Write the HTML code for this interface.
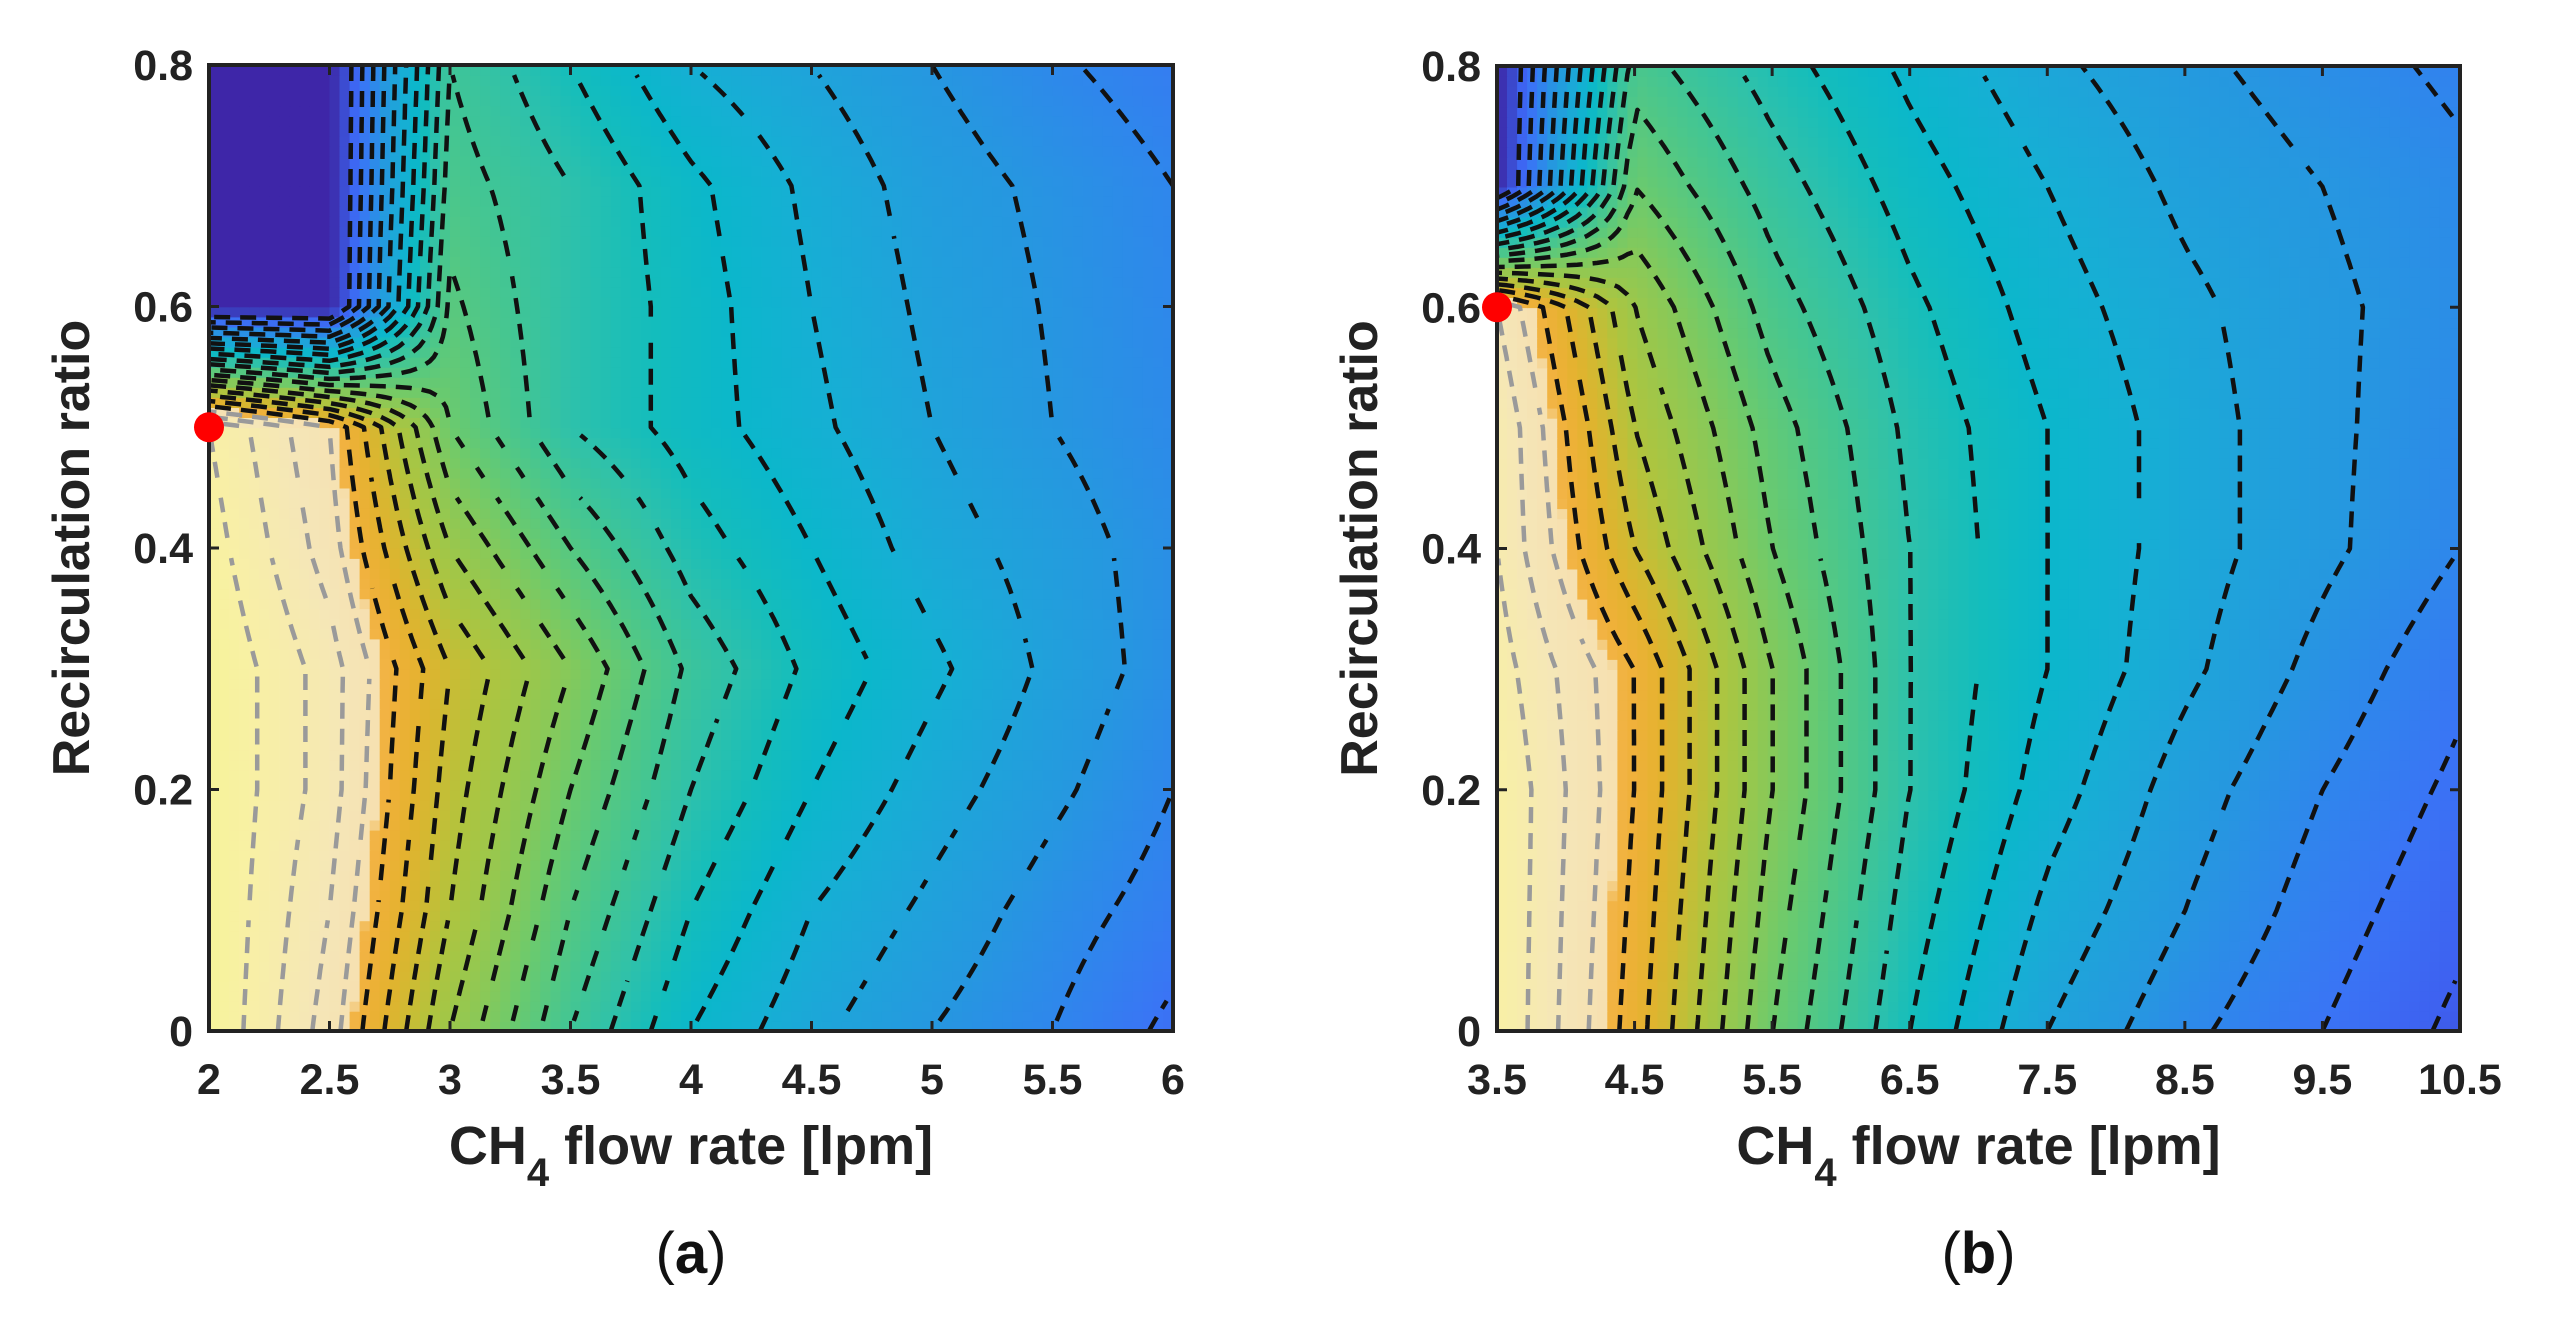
<!DOCTYPE html>
<html><head><meta charset="utf-8"><style>
html,body{margin:0;padding:0;background:#fff}
svg{display:block}
text{font-family:"Liberation Sans",Arial,sans-serif}
</style></head><body>
<svg id="fig" width="2564" height="1344" xmlns="http://www.w3.org/2000/svg"></svg>
<script>
// ---- data: panel (a) ----
const xA = [2,2.5,3,3.5,4,4.5,5,5.5,6];
const yA = [0,0.1,0.2,0.3,0.4,0.5,0.6,0.7,0.8];
const zA = [
 [58,51,40,32,26,22.5,20,18,15.5],
 [58,52,42,34,28,24,21.5,19,17],
 [58,53,43,36,30,26,23,20.5,18],
 [58,53,44,38,31.5,27.5,24.5,21.5,19],
 [57,51,40,34,29,26,23,21,19],
 [56,50,36,30,27,24.5,22,20,18.5],
 [10,10,34.5,30,27,24,21.5,19.8,18.2],
 [10,10,33,30,26.5,23.5,21,19.5,18],
 [10,10,32,28,24,22,20,18.3,17]
];
const xTicksA = ["2","2.5","3","3.5","4","4.5","5","5.5","6"];
// ---- data: panel (b) ----
const xB = [3.5,4.5,5.5,6.5,7.5,8.5,9.5,10.5];
const yB = [0,0.1,0.2,0.3,0.4,0.5,0.6,0.7,0.8];
const zB = [
 [56,47,36,28,22,18.5,16,13.5],
 [56,47.5,37,29,23.5,20,17,14.5],
 [56,48,38,30,25,21,18,15.5],
 [55,48,38,30,26,22.5,19.3,16.5],
 [54,44,36,30,26,23,20.5,18],
 [54,42,35,29.5,26,23,20.5,18.5],
 [52,40,33,28.5,25,22.5,20.5,18.8],
 [10,36,31,27,24,21.5,20,18.5],
 [10,33,29,25.5,22.5,20.5,19,17.5]
];
const xTicksB = ["3.5","4.5","5.5","6.5","7.5","8.5","9.5","10.5"];
const yTicks = [0,0.2,0.4,0.6,0.8];
const yTickLabels = ["0","0.2","0.4","0.6","0.8"];
const levels = [14,16,18,20,22,24,26,28,30,32,34,36,38,40,42,44,46,48,50,52,54,56,58];
const dotA = [2,0.5];
const dotB = [3.5,0.6];

const NS="http://www.w3.org/2000/svg";
const svg=document.getElementById('fig');
function mk(tag,attrs,parent){const e=document.createElementNS(NS,tag);for(const k in attrs)e.setAttribute(k,attrs[k]);(parent||svg).appendChild(e);return e;}

const stops=[[10,[62,38,168]],[12,[58,63,190]],[14,[62,96,240]],[16,[58,116,245]],[18,[47,134,236]],[20,[38,151,224]],[22,[31,163,218]],[24,[22,175,212]],[26,[11,183,203]],[28,[20,189,188]],[30,[46,193,171]],[32,[64,197,150]],[34,[85,200,130]],[36,[108,202,109]],[38,[134,201,90]],[40,[156,199,75]],[42,[176,196,62]],[44,[205,187,51]],[46,[227,178,46]],[48,[240,177,58]],[48.9,[242,180,70]],[49,[246,224,176]],[52,[245,230,184]],[56,[248,240,165]],[58,[246,243,154]]];
function color(v){
 if(v<=stops[0][0])return 'rgb('+stops[0][1]+')';
 for(let i=1;i<stops.length;i++){if(v<=stops[i][0]){const a=stops[i-1],b=stops[i],t=(v-a[0])/(b[0]-a[0]);
  return 'rgb('+a[1].map((c,j)=>Math.round(c+(b[1][j]-c)*t)).join(',')+')';}}
 return 'rgb('+stops[stops.length-1][1]+')';
}

function chain(segs){
 const key=p=>p[0].toFixed(1)+','+p[1].toFixed(1);
 const adj={};
 segs.forEach((s,idx)=>{[0,1].forEach(e=>{const k=key(s[e]);(adj[k]=adj[k]||[]).push(idx);});});
 const used=new Array(segs.length).fill(false);
 let d='';
 function next(pt){const l=adj[key(pt)]||[];for(const i of l){if(!used[i])return i;}return -1;}
 for(let s=0;s<segs.length;s++){
  if(used[s])continue;
  used[s]=true;
  let line=[segs[s][0],segs[s][1]];
  // extend forward
  let cur=segs[s][1],n;
  while((n=next(cur))>=0){used[n]=true;const sg=segs[n];const o=key(sg[0])===key(cur)?sg[1]:sg[0];line.push(o);cur=o;}
  cur=segs[s][0];
  while((n=next(cur))>=0){used[n]=true;const sg=segs[n];const o=key(sg[0])===key(cur)?sg[1]:sg[0];line.unshift(o);cur=o;}
  d+='M'+line.map(p=>p[0].toFixed(1)+' '+p[1].toFixed(1)).join('L');
 }
 return d;
}

function panel(name,px,py,pw,ph,xs,ys,zs,xTickLabels,dot,letter){
 const g=mk('g',{});  
 const x0=xs[0],x1=xs[xs.length-1],y0=ys[0],y1=ys[ys.length-1];
 const sx=v=>px+(v-x0)/(x1-x0)*pw, sy=v=>py+ph-(v-y0)/(y1-y0)*ph;
 function val(x,y){
  let i=0;while(i<xs.length-2&&x>xs[i+1])i++;
  let j=0;while(j<ys.length-2&&y>ys[j+1])j++;
  const tx=(x-xs[i])/(xs[i+1]-xs[i]),ty=(y-ys[j])/(ys[j+1]-ys[j]);
  return zs[j][i]*(1-tx)*(1-ty)+zs[j][i+1]*tx*(1-ty)+zs[j+1][i]*(1-tx)*ty+zs[j+1][i+1]*tx*ty;
 }
 const N=96,M=96;
 const clipId='clip-'+name;
 const cp=mk('clipPath',{id:clipId},g);mk('rect',{x:px,y:py,width:pw,height:ph},cp);
 const hm=mk('g',{'clip-path':'url(#'+clipId+')'},g);
  
 const F=[];
 for(let j=0;j<=M;j++){F.push([]);for(let i=0;i<=N;i++){F[j].push(val(x0+(x1-x0)*i/N,y0+(y1-y0)*j/M));}}
 const cw=pw/N,ch=ph/M;
 for(let j=0;j<M;j++)for(let i=0;i<N;i++){
  const v=(F[j][i]+F[j][i+1]+F[j+1][i]+F[j+1][i+1])/4;
  const r=mk('rect',{x:(px+i*cw).toFixed(1),y:(py+ph-(j+1)*ch).toFixed(1),width:(cw+0.8).toFixed(1),height:(ch+0.8).toFixed(1),fill:color(v)},hm);
  
  
 }
 const pX=i=>px+i*cw,pY=j=>py+ph-j*ch;
 levels.forEach(L=>{
  const segs=[];
  for(let j=0;j<M;j++)for(let i=0;i<N;i++){
   const a=F[j][i],b=F[j][i+1],c=F[j+1][i+1],e=F[j+1][i];
   const pts=[];
   const cr=(v1,v2,xa,ya,xb,yb)=>{if((v1-L)*(v2-L)<0){const t=(L-v1)/(v2-v1);pts.push([xa+(xb-xa)*t,ya+(yb-ya)*t]);}};
   cr(a,b,pX(i),pY(j),pX(i+1),pY(j));
   cr(b,c,pX(i+1),pY(j),pX(i+1),pY(j+1));
   cr(c,e,pX(i+1),pY(j+1),pX(i),pY(j+1));
   cr(e,a,pX(i),pY(j+1),pX(i),pY(j));
   for(let k=0;k+1<pts.length;k+=2)segs.push([pts[k],pts[k+1]]);
  }
  if(segs.length){
   const p=mk('path',{d:chain(segs),fill:'none',stroke:L>48?'#9a9a9a':'#111','stroke-width':4.5,'stroke-dasharray':'16 10','stroke-linejoin':'round'},hm);
   
   
  }
 });
 const fr=mk('rect',{x:px,y:py,width:pw,height:ph,fill:'none',stroke:'#222','stroke-width':4},g);
 
 
 xTickLabels.forEach((t,k)=>{
  const xv=x0+(x1-x0)*k/(xTickLabels.length-1),X=sx(xv);
  mk('line',{x1:X,y1:py,x2:X,y2:py+10,stroke:'#222','stroke-width':3},g);
  mk('line',{x1:X,y1:py+ph,x2:X,y2:py+ph-10,stroke:'#222','stroke-width':3},g);
  const tx=mk('text',{x:X,y:py+ph+63,'font-size':43,'font-weight':'bold','text-anchor':'middle',fill:'#222'},g);
  tx.textContent=t;
  
  
 });
 yTicks.forEach((v,k)=>{
  const Y=sy(v);
  mk('line',{x1:px,y1:Y,x2:px+10,y2:Y,stroke:'#222','stroke-width':3},g);
  mk('line',{x1:px+pw,y1:Y,x2:px+pw-10,y2:Y,stroke:'#222','stroke-width':3},g);
  const ty=mk('text',{x:px-16,y:Y+15,'font-size':43,'font-weight':'bold','text-anchor':'end',fill:'#222'},g);
  ty.textContent=yTickLabels[k];
  
  
 });
 const yt=mk('text',{x:0,y:0,'font-size':52,'font-weight':'bold','text-anchor':'middle',fill:'#222',transform:'translate('+(px-120)+','+(py+ph/2)+') rotate(-90)'},g);
 yt.textContent='Recirculation ratio';
 
 
 const xt=mk('text',{x:px+pw/2,y:py+ph+133,'font-size':54,'font-weight':'bold','text-anchor':'middle',fill:'#222'},g);
 xt.innerHTML='CH<tspan dy="22" font-size="40">4</tspan><tspan dy="-22"> flow rate [lpm]</tspan>';
 
 
 const lt=mk('text',{x:px+pw/2,y:py+ph+242,'font-size':58,'text-anchor':'middle',fill:'#111','font-family':'Liberation Serif, serif'},g);
 lt.innerHTML='(<tspan font-weight="bold">'+letter+'</tspan>)';
 
 
 const c=mk('circle',{cx:sx(dot[0]),cy:sy(dot[1]),r:15,fill:'#f00'},g);
 
 
}
panel('a',209,65,964,966,xA,yA,zA,xTicksA,dotA,'a');
panel('b',1497,66,963,965,xB,yB,zB,xTicksB,dotB,'b');
</script>
</body></html>
